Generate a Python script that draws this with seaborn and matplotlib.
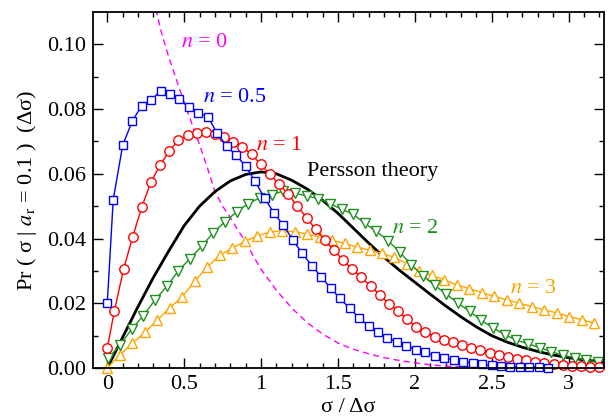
import numpy as np
import pandas as pd
import matplotlib
matplotlib.use("Agg")
import matplotlib.pyplot as plt
import seaborn as sns

# ---------------- data ----------------
# n = 0.5 (blue squares)
x_n05 = [0.0] + [round(0.0385 + k * 0.0615, 4) for k in range(47)]
y_n05 = [0.0202, 0.0520, 0.0688, 0.0762, 0.0810, 0.0827, 0.0857, 0.0846, 0.0832,
         0.0807, 0.0788, 0.0776, 0.0725, 0.0686, 0.0657, 0.0624, 0.0577, 0.0525,
         0.0479, 0.0441, 0.0395, 0.0354, 0.0316, 0.0282, 0.0246, 0.0215, 0.0184,
         0.0155, 0.0130, 0.0110, 0.0093, 0.0080, 0.0068, 0.0057, 0.0048, 0.0038,
         0.0031, 0.0025, 0.0020, 0.0015, 0.0011, 0.0008, 0.0006, 0.0004, 0.0003,
         0.0002, 0.0002, 0.0001]

# n = 1 (red circles)
x_n1 = [0.0] + [round(0.046 + k * 0.0595, 4) for k in range(54)]
y_n1 = [0.0062, 0.0176, 0.0305, 0.0405, 0.0498, 0.0575, 0.0627, 0.0670, 0.0704,
        0.0719, 0.0726, 0.0729, 0.0722, 0.0714, 0.0698, 0.0683, 0.0660, 0.0629,
        0.0598, 0.0568, 0.0537, 0.0500, 0.0465, 0.0428, 0.0395, 0.0364, 0.0333,
        0.0305, 0.0280, 0.0253, 0.0226, 0.0198, 0.0177, 0.0150, 0.0128, 0.0110,
        0.0097, 0.0088, 0.0080, 0.0071, 0.0063, 0.0055, 0.0047, 0.0040, 0.0034,
        0.0029, 0.0024, 0.0019, 0.0015, 0.0012, 0.0009, 0.0007, 0.0005, 0.0004,
        0.0003]

# n = 2 (green down-triangles)
x_n2 = [round(0.007 + k * 0.0758, 4) for k in range(43)]
y_n2 = [0.0030, 0.0071, 0.0120, 0.0162, 0.0210, 0.0252, 0.0300, 0.0338, 0.0376,
        0.0418, 0.0452, 0.0482, 0.0508, 0.0526, 0.0536, 0.0546, 0.0540, 0.0532,
        0.0523, 0.0508, 0.0491, 0.0475, 0.0447, 0.0422, 0.0393, 0.0358, 0.0318,
        0.0285, 0.0255, 0.0228, 0.0200, 0.0175, 0.0147, 0.0124, 0.0103, 0.0086,
        0.0075, 0.0063, 0.0050, 0.0040, 0.0031, 0.0025, 0.0017]

# n = 3 (orange up-triangles)
x_n3 = [round(k * 0.0812, 4) for k in range(40)]
y_n3 = [0.0000, 0.0040, 0.0076, 0.0110, 0.0148, 0.0186, 0.0220, 0.0268, 0.0312,
        0.0348, 0.0370, 0.0391, 0.0408, 0.0420, 0.0424, 0.0421, 0.0414, 0.0405,
        0.0395, 0.0385, 0.0374, 0.0364, 0.0354, 0.0342, 0.0322, 0.0300, 0.0286,
        0.0272, 0.0257, 0.0245, 0.0233, 0.0221, 0.0211, 0.0200, 0.0190, 0.0180,
        0.0170, 0.0159, 0.0149, 0.0139]

# n = 0 (magenta dashed)
x_n0 = [0.30, 0.35, 0.40, 0.45, 0.50, 0.55, 0.60, 0.65, 0.70, 0.75, 0.80, 0.85,
        0.90, 0.95, 1.00, 1.10, 1.20, 1.30, 1.40, 1.50, 1.60, 1.70, 1.80, 1.90,
        2.00, 2.10, 2.20, 2.30, 2.40, 2.50]
y_n0 = [0.1140, 0.1040, 0.0960, 0.0890, 0.0820, 0.0755, 0.0690, 0.0620, 0.0545,
        0.0500, 0.0465, 0.0425, 0.0390, 0.0345, 0.0305, 0.0240, 0.0185, 0.0140,
        0.0105, 0.0077, 0.0058, 0.0044, 0.0032, 0.0023, 0.0016, 0.0010, 0.0006,
        0.0004, 0.0002, 0.0001]

# Persson theory (black solid)
x_th = [0.0, 0.1, 0.2, 0.3, 0.4, 0.5, 0.6, 0.7, 0.8, 0.9, 1.0, 1.1, 1.2, 1.3,
        1.4, 1.5, 1.6, 1.7, 1.8, 1.9, 2.0, 2.1, 2.2, 2.3, 2.4, 2.5, 2.6, 2.7,
        2.8, 2.9, 3.0, 3.1, 3.2, 3.25]
y_th = [0.0, 0.0095, 0.0190, 0.0280, 0.0362, 0.0440, 0.0500, 0.0545, 0.0578,
        0.0598, 0.0606, 0.0600, 0.0580, 0.0553, 0.0518, 0.0478, 0.0432, 0.0386,
        0.0342, 0.0302, 0.0265, 0.0228, 0.0192, 0.0158, 0.0127, 0.0100, 0.0080,
        0.0064, 0.0051, 0.0040, 0.0032, 0.0025, 0.0020, 0.0018]

x_ticks = [0, 0.5, 1, 1.5, 2, 2.5, 3]
x_ticklabels = ["0", "0.5", "1", "1.5", "2", "2.5", "3"]
y_ticks = [0.00, 0.02, 0.04, 0.06, 0.08, 0.10]
y_ticklabels = ["0.00", "0.02", "0.04", "0.06", "0.08", "0.10"]

# ---------------- style ----------------
sns.set_theme(style="white")
plt.rcParams["font.family"] = ["Liberation Serif", "DejaVu Serif"]
plt.rcParams["mathtext.fontset"] = "stix"
plt.rcParams["axes.unicode_minus"] = False

BLUE = "#0000ff"
RED = "#ff0000"
GREEN = "#1e8f1e"
ORANGE = "#ffa500"
MAGENTA = "#ff00ff"
FS = 16

fig = plt.figure(figsize=(6.08, 4.19), dpi=100)
ax = fig.add_axes([93 / 608, 1 - 368 / 419, (604 - 93) / 608, (368 - 12) / 419])

# theory and n=0 curves
sns.lineplot(x=x_n0, y=y_n0, ax=ax, color=MAGENTA, linewidth=1.0,
             linestyle=(0, (4.5, 3)), sort=False, estimator=None, legend=False)
sns.lineplot(x=x_th, y=y_th, ax=ax, color="black", linewidth=2.0,
             sort=False, estimator=None, legend=False)

series = [
    (x_n3, y_n3, ORANGE, "^", 7.5),
    (x_n2, y_n2, GREEN, "v", 7.5),
    (x_n1, y_n1, RED, "o", 6.8),
    (x_n05, y_n05, BLUE, "s", 6.0),
]
for xs, ys, col, mk, ms in series:
    sns.lineplot(x=xs, y=ys, ax=ax, color=col, linewidth=1.0, marker=mk,
                 markersize=ms, markerfacecolor="white", markeredgecolor=col,
                 markeredgewidth=1.0, sort=False, estimator=None, legend=False,
                 clip_on=False)

ax.set_xlim(-0.093, 3.23)
ax.set_ylim(0, 0.11)

ax.set_xticks(x_ticks)
ax.set_xticklabels(x_ticklabels)
ax.set_yticks(y_ticks)
ax.set_yticklabels(y_ticklabels)
ax.set_xticks(np.arange(-0.0, 3.25, 0.1), minor=True)
ax.set_yticks(np.arange(0.0, 0.11, 0.01), minor=True)

ax.tick_params(which="both", direction="in", top=True, right=True,
               bottom=True, left=True, color="black", labelsize=FS,
               labelcolor="black")
ax.tick_params(which="major", length=7, width=1.0, pad=5)
ax.tick_params(which="minor", length=3.5, width=1.0)
for s in ax.spines.values():
    s.set_color("black")
    s.set_linewidth(1.3)

ax.set_xlabel("σ / Δσ", fontsize=FS, color="black", labelpad=3)
ax.set_ylabel(r"Pr ( σ | $a_{\mathrm{r}}$ = 0.1 )  (Δσ)", fontsize=FS,
              color="black", labelpad=6)

# annotations
ax.text(0.478, 0.0991, r"$n$ = 0", color=MAGENTA, fontsize=FS, va="baseline")
ax.text(0.62, 0.0821, r"$n$ = 0.5", color=BLUE, fontsize=FS, va="baseline")
ax.text(0.97, 0.0673, r"$n$ = 1", color=RED, fontsize=FS, va="baseline")
ax.text(1.30, 0.0593, "Persson theory", color="black", fontsize=FS, va="baseline")
ax.text(1.85, 0.0417, r"$n$ = 2", color=GREEN, fontsize=FS, va="baseline")
ax.text(2.62, 0.0231, r"$n$ = 3", color=ORANGE, fontsize=FS, va="baseline")

fig.savefig("out.png", dpi=100)
